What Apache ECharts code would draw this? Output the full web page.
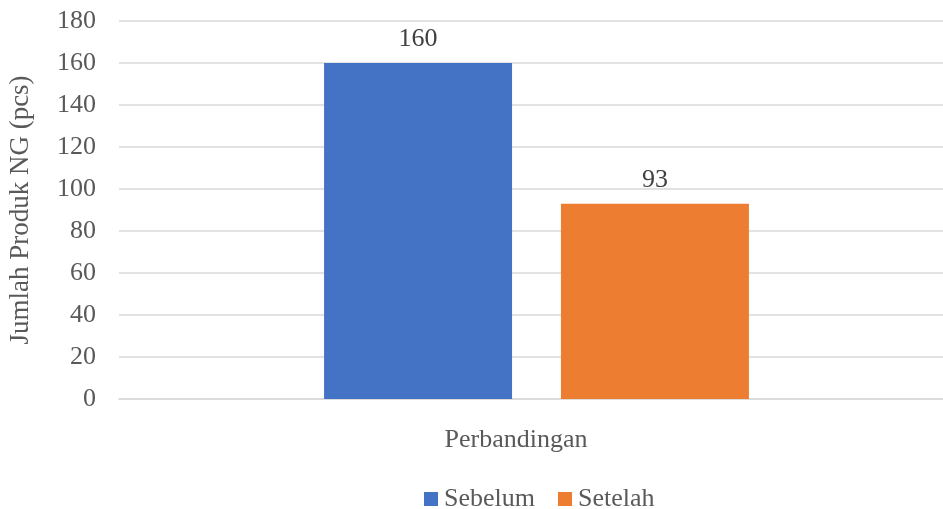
<!DOCTYPE html>
<html>
<head>
<meta charset="utf-8">
<script src="https://cdn.jsdelivr.net/npm/echarts@6/dist/echarts.min.js"></script>
<style>
  html, body { margin: 0; padding: 0; background: #fff; }
  #chart { width: 943px; height: 509px; }
</style>
</head>
<body>
<div id="chart"></div>
<script>
// Categories, series and axis settings
const categories = ['Perbandingan'];
const seriesNames = ['Sebelum', 'Setelah'];
const sebelumValues = [160];
const setelahValues = [93];
const yTicks = { min: 0, max: 180, interval: 20 };
const yTitle = 'Jumlah Produk NG (pcs)';
const colors = ['#4472C4', '#ED7D31'];

const fontFamily = '"Liberation Serif", "Times New Roman", serif';

const chart = echarts.init(document.getElementById('chart'), null, { renderer: 'canvas' });

const labelStyle = {
  show: true,
  position: 'top',
  distance: 11,
  color: '#404040',
  fontSize: 26,
  fontFamily: fontFamily
};

chart.setOption({
  animation: false,
  backgroundColor: '#ffffff',
  color: colors,
  textStyle: { fontFamily: fontFamily },
  grid: {
    left: 119, top: 21, bottom: 110, width: 835,
    containLabel: false,
    outerBoundsMode: 'none'
  },
  legend: {
    data: seriesNames,
    left: 424,
    top: 486,
    padding: 0,
    itemWidth: 14,
    itemHeight: 14,
    itemGap: 23,
    icon: 'rect',
    textStyle: { fontSize: 26, color: '#595959', fontFamily: fontFamily, padding: [0, 0, 0, 1] }
  },
  xAxis: {
    type: 'category',
    data: categories,
    axisLine: { show: true, lineStyle: { color: '#d9d9d9', width: 1.5 } },
    axisTick: { show: false },
    axisLabel: {
      margin: 28,
      fontSize: 26,
      color: '#595959',
      fontFamily: fontFamily,
      padding: [0, 41, 0, 0]
    }
  },
  yAxis: {
    type: 'value',
    min: yTicks.min,
    max: yTicks.max,
    interval: yTicks.interval,
    name: yTitle,
    nameLocation: 'middle',
    nameGap: 85,
    nameRotate: 90,
    nameTextStyle: { fontSize: 27, color: '#595959', fontFamily: fontFamily },
    axisLine: { show: false },
    axisTick: { show: false },
    axisLabel: { margin: 23, fontSize: 26, color: '#595959', fontFamily: fontFamily },
    splitLine: { lineStyle: { color: '#d9d9d9', width: 1.5 } }
  },
  series: [
    {
      name: seriesNames[0],
      type: 'bar',
      data: sebelumValues,
      barWidth: 188,
      barGap: '26%',
      label: labelStyle
    },
    {
      name: seriesNames[1],
      type: 'bar',
      data: setelahValues,
      barWidth: 188,
      barGap: '26%',
      label: labelStyle
    }
  ]
});
</script>
</body>
</html>
